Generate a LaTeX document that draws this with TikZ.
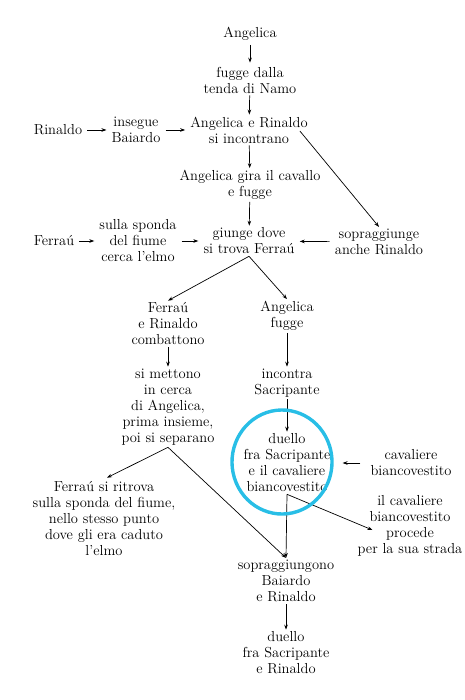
\documentclass[tikz,border=0pt]{standalone}
\usepackage{tikz}
\usetikzlibrary{arrows.meta,calc}

\begin{document}
\begin{tikzpicture}[x=1pt, y=-1pt,
    txt/.style={align=center, inner sep=2pt, font=\fontsize{14.5}{16}\selectfont},
    arr/.style={-{Stealth[length=5pt,width=3.6pt]}, line width=0.7pt},
    ring/.style={line width=3.4pt, color=ringblue, line cap=round}]
\definecolor{ringblue}{RGB}{40,190,230}
\useasboundingbox (0,0) rectangle (464,700);
% upper part
\node[txt] (ang) at (250,34) {Angelica};
\node[txt] (fug) at (250,80) {fugge dalla\\tenda di Namo};
\node[txt] (inc) at (249,130) {Angelica e Rinaldo\\si incontrano};
\node[txt] (rin) at (58,130) {Rinaldo};
\node[txt] (ins) at (136,130) {insegue\\Baiardo};
\node[txt] (gira) at (250,185) {Angelica gira il cavallo\\e fugge};
\node[txt] (giu) at (249,241) {giunge dove\\si trova Ferraú};
\node[txt] (fer) at (54,241) {Ferraú};
\node[txt] (sul) at (138,241) {sulla sponda\\del fiume\\cerca l’elmo};
\node[txt] (sopr) at (379,242) {sopraggiunge\\anche Rinaldo};
% middle part
\node[txt] (fr) at (168,324) {Ferraú\\e Rinaldo\\combattono};
\node[txt] (af) at (287,316) {Angelica\\fugge};
\node[txt] (sim) at (168,407) {si mettono\\in cerca\\di Angelica,\\prima insieme,\\poi si separano};
\node[txt] (incs) at (287,383) {incontra\\Sacripante};
\node[txt] (duel) at (287,463) {duello\\fra Sacripante\\e il cavaliere\\biancovestito};
\node[txt] (cav) at (411,463) {cavaliere\\biancovestito};
\node[txt] (proc) at (410,526) {il cavaliere\\biancovestito\\procede\\per la sua strada};
\node[txt] (fsr) at (104,519) {Ferraú si ritrova\\sulla sponda del fiume,\\nello stesso punto\\dove gli era caduto\\l’elmo};
% lower part
\node[txt] (sop) at (286,581) {sopraggiungono\\Baiardo\\e Rinaldo};
\node[txt] (dsr) at (286,653) {duello\\fra Sacripante\\e Rinaldo};

\draw[arr, shorten <=2pt, shorten >=2pt] (ang) -- (fug);
\draw[arr] (fug) -- (inc);
\draw[arr, shorten <=3pt, shorten >=3pt] (rin) -- (ins);
\draw[arr, shorten <=3pt, shorten >=3pt] (ins) -- (inc);
\draw[arr] (inc) -- (gira);
\draw[arr] ($(inc.east)+(-10,1)$) -- (sopr.north); %diagonal
\draw[arr] (gira) -- (giu);
\draw[arr, shorten <=3pt, shorten >=3pt] (fer) -- (sul);
\draw[arr, shorten <=3pt, shorten >=3pt] (sul) -- (giu);
\draw[arr, shorten <=3pt, shorten >=3pt] (sopr) -- (giu);
\draw[arr] (giu.south) -- (fr.north);
\draw[arr] (giu.south) -- (af.north);
\draw[arr] (fr) -- (sim);
\draw[arr] (af) -- (incs);
\draw[arr] (incs) -- (duel);
\draw[arr, shorten <=8pt, shorten >=10pt] (cav) -- (duel);
\draw[arr] (duel.south) -- (sop.north);
\draw[arr] (duel.south) -- ($(proc.west)+(17,4)$);
\draw[arr] (sim.south) -- ($(fsr.north)+(3,-2)$);
\draw[arr] (sim.south) -- (sop.north);
\draw[arr] (sop) -- (dsr);
% blue ring
\draw[ring] (282,462) ++(72:50 and 52) arc[start angle=72, end angle=438, x radius=50, y radius=52];
\end{tikzpicture}
\end{document}
